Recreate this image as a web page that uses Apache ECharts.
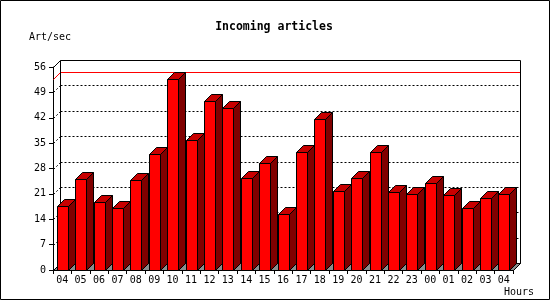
<!DOCTYPE html>
<html>
<head>
<meta charset="utf-8">
<script src="https://cdn.jsdelivr.net/npm/echarts@6/dist/echarts.min.js"></script>
<style>
html,body{margin:0;padding:0;background:#fff;}
#c{width:550px;height:300px;}
</style>
</head>
<body>
<div id="c"></div>
<script>
const categories = ['04','05','06','07','08','09','10','11','12','13','14','15','16','17','18','19','20','21','22','23','00','01','02','03','04'];
const artPerSec = [17.6,25.0,18.7,17.0,24.7,31.9,52.8,36.0,46.5,44.6,25.3,29.4,15.4,32.5,41.7,21.7,25.3,32.5,21.4,21.0,23.9,20.6,17.0,19.8,21.0];
const yTicks = [0,7,14,21,28,35,42,49,56];

const DX = 7, DY = 7;
const MONO = '"DejaVu Sans Mono", monospace';
const maxVal = Math.max.apply(null, artPerSec);
const crisp = v => Math.round(v) + 0.5;

const chart = echarts.init(document.getElementById('c'), null, {renderer: 'canvas'});

function frameItem(params, api) {
  const cs = params.coordSys;
  const x0 = crisp(cs.x), x1 = crisp(cs.x + cs.width);
  const y0 = crisp(api.coord([0, 0])[1]);
  const yTop = crisp(api.coord([0, yTicks[yTicks.length - 1]])[1]);
  const children = [];
  // floor
  children.push({type: 'polygon', shape: {points: [[x0, y0], [x1, y0], [x1 + DX, y0 - DY], [x0 + DX, y0 - DY]]},
    style: {fill: '#8c8c8c', stroke: '#000', lineWidth: 1}});
  // grid lines on back wall + left wall
  for (let k = 1; k < yTicks.length - 1; k++) {
    const fy = crisp(api.coord([0, yTicks[k]])[1]);
    children.push({type: 'line', shape: {x1: x0 + DX, y1: fy - DY, x2: x1 + DX, y2: fy - DY},
      style: {stroke: '#000', lineWidth: 1, lineDash: [2, 2]}});
    children.push({type: 'line', shape: {x1: x0, y1: fy, x2: x0 + DX, y2: fy - DY},
      style: {stroke: '#000', lineWidth: 1, lineDash: [2, 2]}});
  }
  // max line
  const my = crisp(api.coord([0, maxVal])[1]);
  children.push({type: 'polyline', shape: {points: [[x0, my], [x0 + DX, my - DY], [x1 + DX, my - DY]]},
    style: {stroke: '#ff0000', lineWidth: 1, fill: null}});
  // back frame
  children.push({type: 'polyline', shape: {points: [[x0, yTop], [x0 + DX, yTop - DY], [x1 + DX, yTop - DY], [x1 + DX, y0 - DY], [x1, y0]]},
    style: {stroke: '#000', lineWidth: 1, fill: null}});
  children.push({type: 'line', shape: {x1: x0 + DX, y1: yTop - DY, x2: x0 + DX, y2: y0 - DY},
    style: {stroke: '#000', lineWidth: 1}});
  return {type: 'group', children: children};
}

function barItem(params, api) {
  const idx = api.value(0), v = api.value(1);
  const p = api.coord([idx, v]);
  const base = crisp(api.coord([idx, 0])[1]);
  const left = crisp(p[0] - 5.5), right = left + 11;
  const top = crisp(p[1]);
  const st = {stroke: '#000', lineWidth: 1};
  return {type: 'group', children: [
    {type: 'polygon', shape: {points: [[right, top], [right + DX, top - DY], [right + DX, base - DY], [right, base]]},
      style: Object.assign({fill: '#800000'}, st)},
    {type: 'polygon', shape: {points: [[left, top], [left + DX, top - DY], [right + DX, top - DY], [right, top]]},
      style: Object.assign({fill: '#c80000'}, st)},
    {type: 'rect', shape: {x: left, y: top, width: right - left, height: base - top},
      style: Object.assign({fill: '#ff0000'}, st)}
  ]};
}

const option = {
  animation: false,
  backgroundColor: '#fff',
  grid: {left: 53, right: 37, top: 67, bottom: 30, containLabel: false},
  xAxis: {
    type: 'category', data: categories, boundaryGap: true,
    axisLine: {show: true, lineStyle: {color: '#000', width: 1}},
    axisTick: {show: true, length: 4, inside: false, lineStyle: {color: '#000'}},
    axisLabel: {show: true, interval: 0, color: '#000', fontFamily: MONO, fontSize: 10, margin: 5},
    splitLine: {show: false}
  },
  yAxis: {
    type: 'value', min: 0, max: 56, interval: 7,
    axisLine: {show: true, lineStyle: {color: '#000', width: 1}},
    axisTick: {show: true, length: 4, inside: false, lineStyle: {color: '#000'}},
    axisLabel: {show: true, color: '#000', fontFamily: MONO, fontSize: 10, margin: 7},
    splitLine: {show: false}
  },
  series: [
    {type: 'custom', name: 'frame', renderItem: frameItem, data: [[0, 0]], z: 1, silent: true, clip: false},
    {type: 'custom', name: 'Art/sec', renderItem: barItem,
      data: artPerSec.map((v, i) => [i, v]), z: 2, silent: true, clip: false,
      encode: {x: 0, y: 1}}
  ],
  graphic: [
    {type: 'rect', shape: {x: 0.5, y: 0.5, width: 549, height: 299}, style: {fill: null, stroke: '#000', lineWidth: 1}, z: 100},
    {type: 'text', x: 274, y: 27, style: {text: 'Incoming articles', font: 'bold 11.5px ' + MONO, fill: '#000',
      align: 'center', verticalAlign: 'middle', textAlign: 'center', textVerticalAlign: 'middle'}},
    {type: 'text', x: 29, y: 37, style: {text: 'Art/sec', font: '10px ' + MONO, fill: '#000',
      align: 'left', verticalAlign: 'middle', textAlign: 'left', textVerticalAlign: 'middle'}},
    {type: 'text', x: 504, y: 292, style: {text: 'Hours', font: '10px ' + MONO, fill: '#000',
      align: 'left', verticalAlign: 'middle', textAlign: 'left', textVerticalAlign: 'middle'}}
  ]
};
chart.setOption(option);
</script>
</body>
</html>
